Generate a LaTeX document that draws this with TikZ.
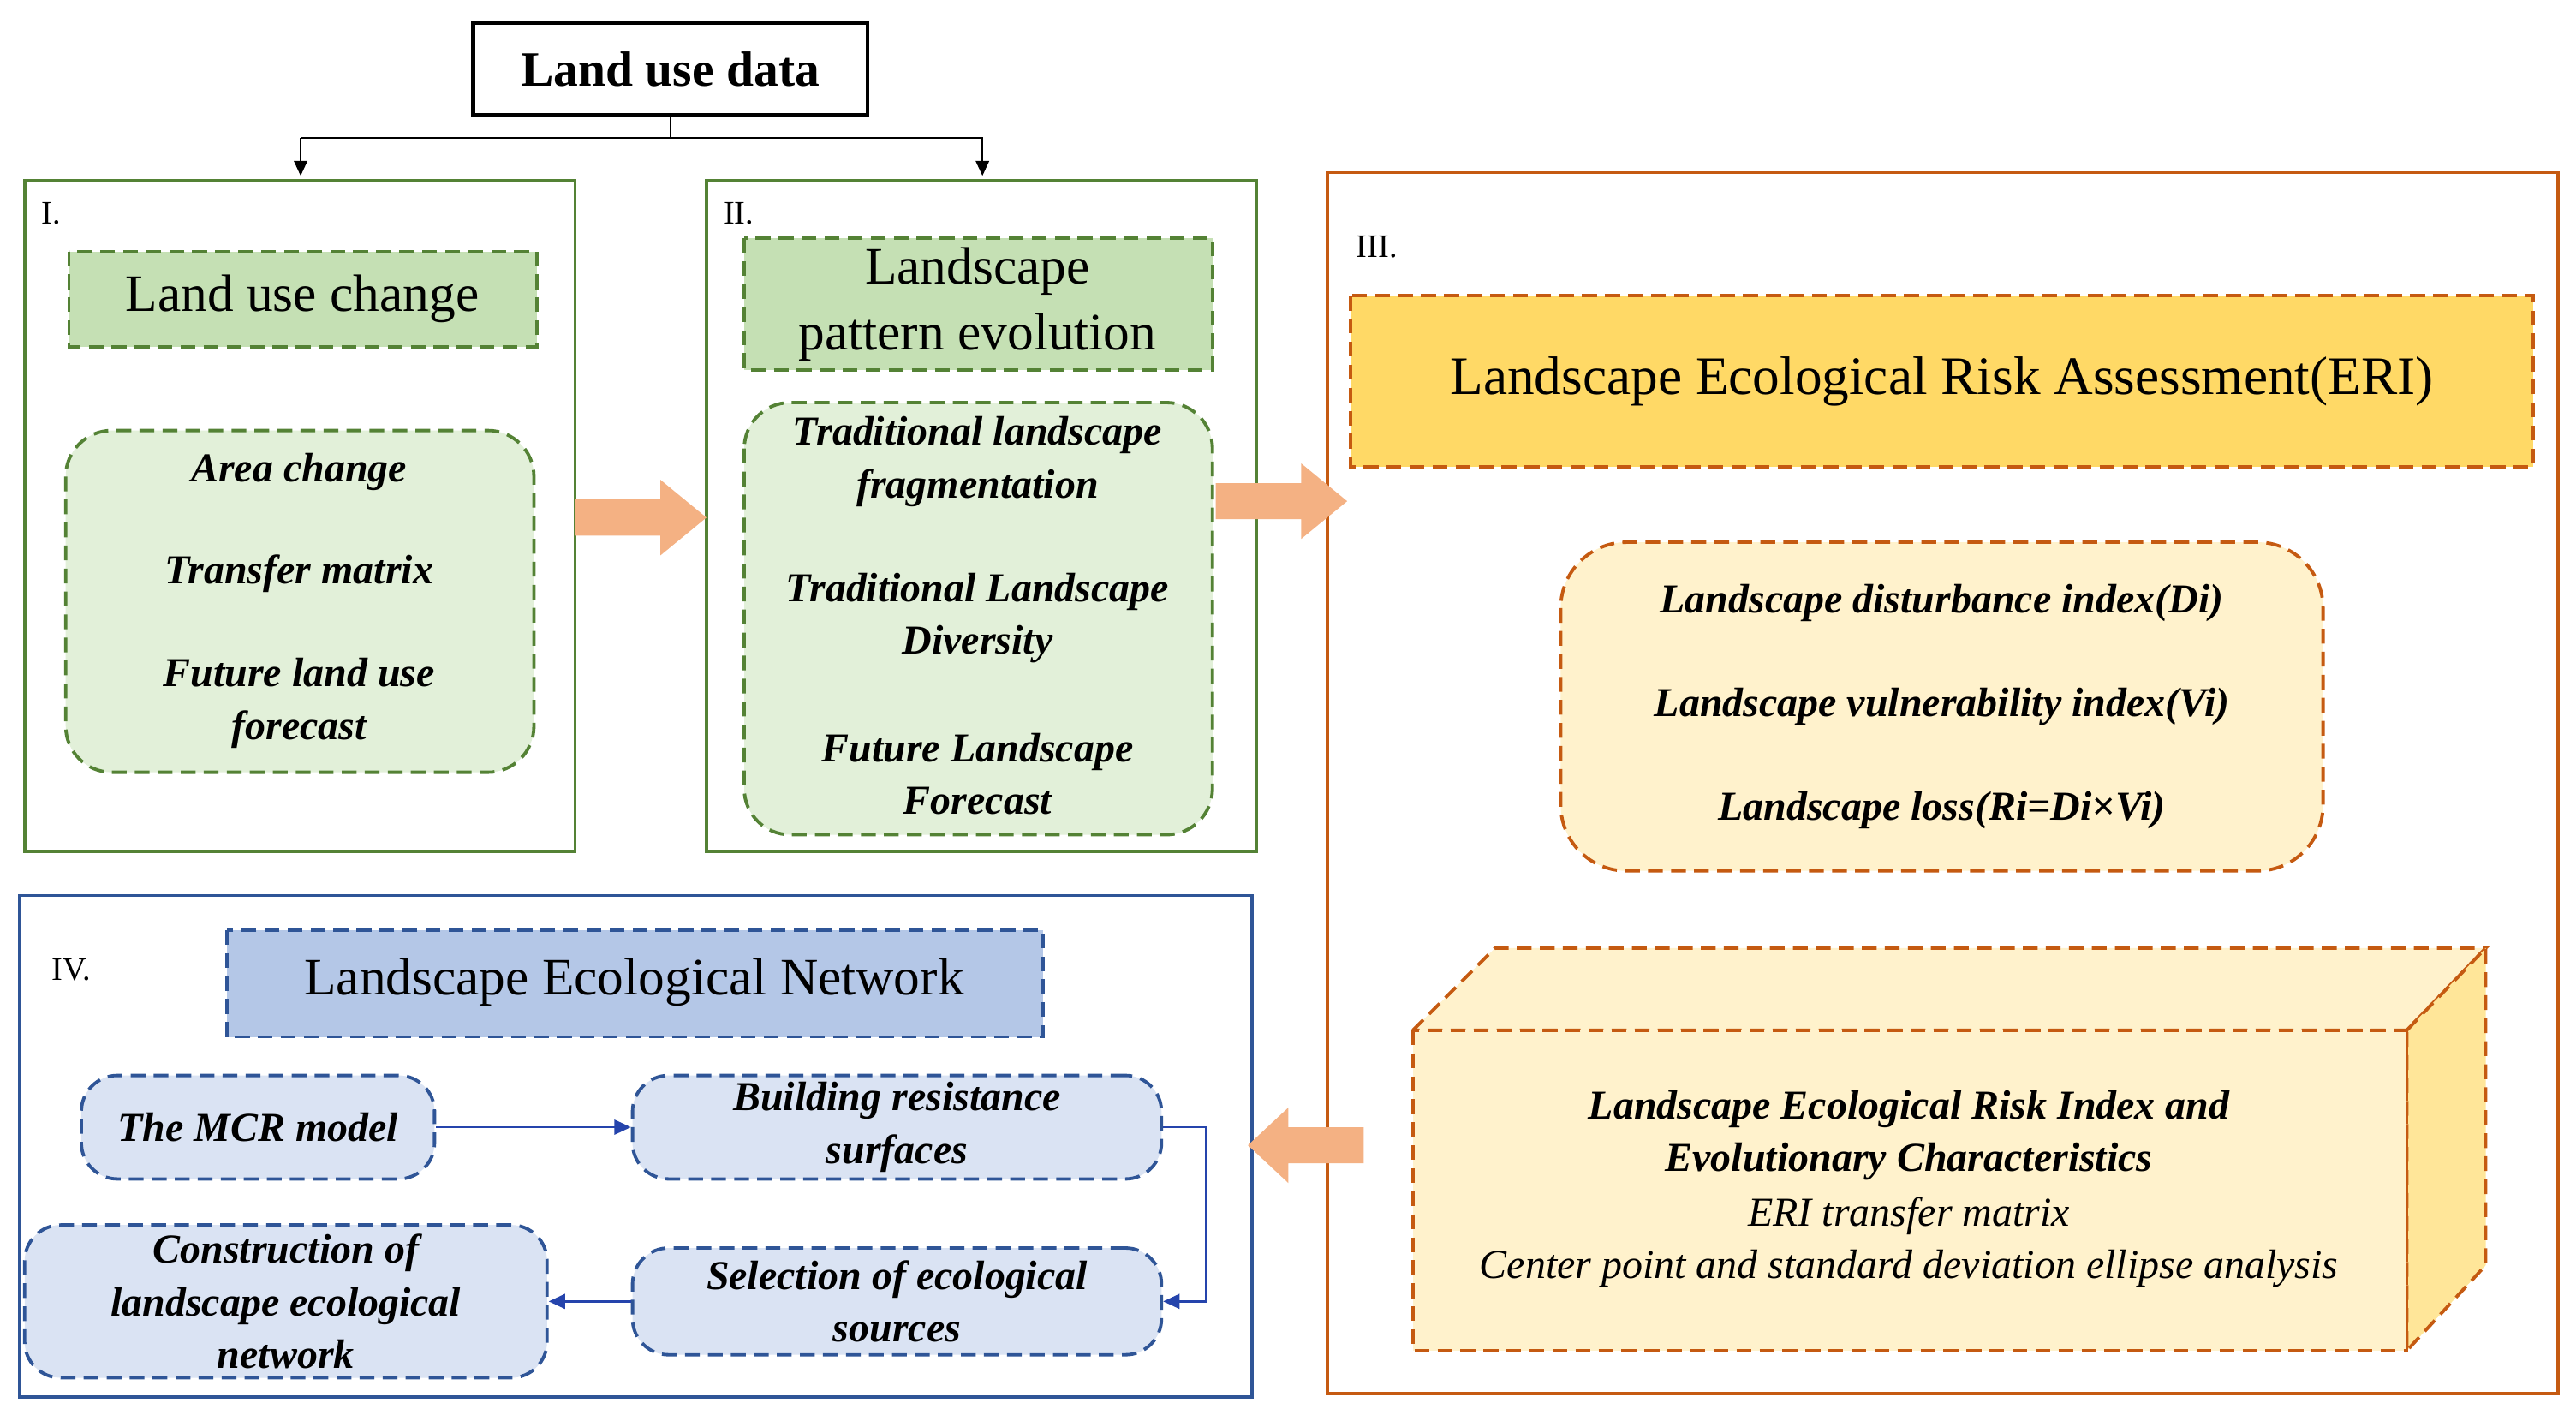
\documentclass[tikz,border=0pt]{standalone}
\usepackage{fontspec}
\setmainfont{Liberation Serif}
\usetikzlibrary{arrows.meta}
\definecolor{gB}{HTML}{548235}\definecolor{gF}{HTML}{C5E0B4}\definecolor{gL}{HTML}{E2F0D9}
\definecolor{oB}{HTML}{C55A11}\definecolor{oF}{HTML}{FFD966}\definecolor{oL}{HTML}{FFF2CC}\definecolor{oS}{HTML}{FFE699}
\definecolor{bB}{HTML}{2F5597}\definecolor{bF}{HTML}{B4C7E7}\definecolor{bL}{HTML}{DAE3F3}\definecolor{aF}{HTML}{F4B183}
\tikzset{
 big/.style={font=\fontsize{32}{34}\selectfont},
 bi/.style={font=\fontsize{25}{32}\selectfont\bfseries\itshape,align=center},
 lab/.style={font=\fontsize{20}{22}\selectfont,anchor=west},
 dsh/.style={dashed,dash pattern=on 9pt off 5pt,line width=2pt},
 fatarrow/.pic={\fill[aF] (0,-11) -- (52,-11) -- (52,-23) -- (80,0) -- (52,23) -- (52,11) -- (0,11) -- cycle;}
}
\begin{document}
\begin{tikzpicture}[x=1pt,y=-1pt]
\useasboundingbox[fill=white] (0,0) rectangle (1568,861);
% top
\node[draw,line width=2.5pt,minimum width=240pt,minimum height=56pt,font=\fontsize{30}{32}\selectfont\bfseries] (lud) at (408,42) {Land use data};
\coordinate (j) at (408,84);
\draw[line width=1.2pt] (lud.south) -- (j);
\draw[line width=1.2pt,-{Triangle[length=9pt,width=8pt]}] (183,84) -- (183,107);
\draw[line width=1.2pt,-{Triangle[length=9pt,width=8pt]}] (183,84) -- (598,84) -- (598,107);
% box I
\draw[gB,line width=2pt] (15,110) rectangle (350,518);
\node[lab] at (22,130) {I.};
\draw[gB,dsh,fill=gF] (42,153) rectangle (327,211);
\node[big] (t1) at (184,182) {Land use change};
\draw[gB,dsh,fill=gL,rounded corners=28pt] (40,262) rectangle (325,470);
\node[bi] at (182,287) {Area change};
\node[bi] at (182,349) {Transfer matrix};
\node[bi] at (182,428) {Future land use\\forecast};
% box II
\draw[gB,line width=2pt] (430,110) rectangle (765,518);
\node[lab] at (437,130) {II.};
\draw[gB,dsh,fill=gF] (453,145) rectangle (738,225);
\node[big,align=center,font=\fontsize{32}{40}\selectfont] at (595,185) {Landscape\\pattern evolution};
\draw[gB,dsh,fill=gL,rounded corners=28pt] (453,245) rectangle (738,508);
\node[bi] at (595,281) {Traditional landscape\\fragmentation};
\node[bi] at (595,376) {Traditional Landscape\\Diversity};
\node[bi] at (595,471) {Future Landscape\\Forecast};
% box III
\draw[oB,line width=2pt] (808,105) rectangle (1557,848);
\node[lab] at (822,150) {III.};
\draw[oB,dsh,fill=oF] (822,180) rectangle (1542,284);
\node[big,font=\fontsize{33}{34}\selectfont] at (1182,232) {Landscape Ecological Risk Assessment(ERI)};
\draw[oB,dsh,fill=oL,rounded corners=40pt] (950,330) rectangle (1414,530);
\node[bi] at (1182,367) {Landscape disturbance index(Di)};
\node[bi] at (1182,430) {Landscape vulnerability index(Vi)};
\node[bi] at (1182,493) {Landscape loss(Ri=Di×Vi)};
\draw[oB,dsh,fill=oL] (860,627) -- (910,577) -- (1513,577) -- (1465,627) -- cycle;
\draw[oB,dsh,fill=oS] (1465,627) -- (1513,577) -- (1513,770) -- (1465,822) -- cycle;
\draw[oB,dsh,fill=oL] (860,627) rectangle (1465,822);
\node[bi] at (1162,691) {Landscape Ecological Risk Index and\\Evolutionary Characteristics};
\node[font=\fontsize{25}{32}\selectfont\itshape,align=center] at (1162,756) {ERI transfer matrix\\Center point and standard deviation ellipse analysis};
% box IV
\draw[bB,line width=2pt] (12,545) rectangle (762,850);
\node[lab] at (28,590) {IV.};
\draw[bB,dsh,fill=bF] (138,566) rectangle (635,631);
\node[big] at (386,598) {Landscape Ecological Network};
\tikzset{bn/.style={draw=bB,dsh,fill=bL,rounded corners=22pt,bi,inner sep=0pt}}
\node[bn,minimum width=215pt,minimum height=63pt] (mcr) at (157,686) {The MCR model};
\node[bn,minimum width=322pt,minimum height=63pt] (brs) at (546,686) {Building resistance\\surfaces};
\node[bn,minimum width=322pt,minimum height=65pt] (sel) at (546,792) {Selection of ecological\\sources};
\node[bn,minimum width=318pt,minimum height=93pt] (con) at (174,792) {Construction of\\landscape ecological\\network};
\tikzset{ba/.style={bB!80!blue,line width=1.2pt,-{Triangle[length=10pt,width=9pt]}}}
\draw[ba] (mcr) -- (brs);
\draw[ba] (brs.east) -- ++(26,0) |- (sel.east);
\draw[ba] (sel) -- (con);
% fat arrows
\pic at (350,315) {fatarrow};
\pic at (740,305) {fatarrow};
\pic[xscale=-0.88] at (830,697) {fatarrow};
\end{tikzpicture}
\end{document}
